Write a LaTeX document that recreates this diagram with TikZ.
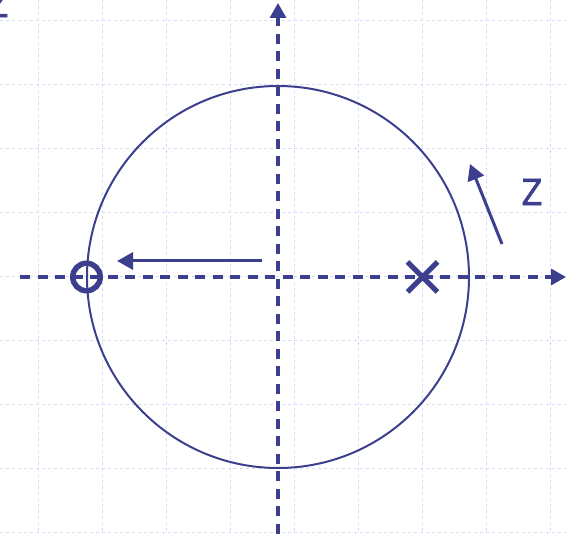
\documentclass[tikz,border=0pt]{standalone}
\usepackage{fontspec}
\setmainfont{DejaVu Sans}
\newfontfamily\zfont[FakeBold=1.2]{DejaVu Sans}
\usetikzlibrary{arrows.meta,calc}
\definecolor{ink}{HTML}{3B3F8E}
\definecolor{gridc}{HTML}{D3DCF4}
\tikzset{
  gridline/.style={gridc, line width=1pt, dash pattern=on 3pt off 3pt},
  axis/.style={ink, line width=3.3pt, dash pattern=on 10pt off 7.5pt, -{Triangle[length=15pt,width=16pt]}},
  vec/.style={ink, line width=3pt, -{Triangle[length=16pt,width=17pt]}},
  lbl/.style={ink, font=\zfont\fontsize{36}{36}\selectfont, inner sep=0pt, xscale=0.85},
}
\begin{document}
\begin{tikzpicture}[x=1pt,y=-1pt]
\useasboundingbox (0,0) rectangle (566,534);
% grid
\foreach \gx in {38,102,166,230,294,358,422,486,550} \draw[gridline] (\gx,0) -- (\gx,534);
\foreach \gy in {21,85,149,213,277,341,405,469,533} \draw[gridline] (0,\gy) -- (566,\gy);
% circle
\node[draw=ink, line width=2pt, circle, minimum size=382pt, inner sep=0pt] (c) at (278,277) {};
% axes
\coordinate (xs) at (20,277); \coordinate (xe) at (566,277);
\coordinate (ys) at (278,534); \coordinate (ye) at (278,3);
\draw[axis] (xs) -- (xe);
\draw[axis] (ys) -- (ye);
% markers
\node[draw=ink, line width=5.5pt, circle, minimum size=27.5pt, inner sep=0pt] (o) at (86.5,277) {};
\coordinate (x) at (422.5,277);
\draw[ink, line width=5pt] ($(x)+(-15,-15)$) -- ($(x)+(15,15)$) ($(x)+(-15,15)$) -- ($(x)+(15,-15)$);
% arrows
\coordinate (a1) at (262,261); \coordinate (a2) at (117,261);
\draw[vec] (a1) -- (a2);
\coordinate (b1) at (502,244); \coordinate (b2) at (470,164);
\draw[vec] (b1) -- (b2);
% labels
\node[lbl] (z) at (532,192) {Z};
\node[lbl] (z0) at (-2,4) {Z};
\end{tikzpicture}
\end{document}
